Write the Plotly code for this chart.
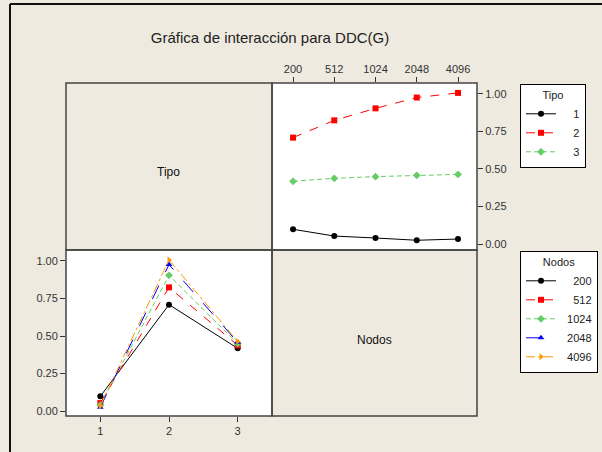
import plotly.graph_objects as go

# Mean DDC(G) for each combination of Tipo and Nodos
nodos = ["200", "512", "1024", "2048", "4096"]
tipos = [1, 2, 3]
ddc_tipo1 = [0.098, 0.053, 0.040, 0.025, 0.033]
ddc_tipo2 = [0.709, 0.824, 0.904, 0.976, 1.007]
ddc_tipo3 = [0.418, 0.438, 0.449, 0.458, 0.464]
ddc_by_tipo = [ddc_tipo1, ddc_tipo2, ddc_tipo3]

W, H = 602, 452
BG = "#EEEAE0"
FRAME = "#444444"
FONT = "Liberation Sans, Arial, sans-serif"
FIG_SPACE = "\u2007"  # digit-wide space, keeps legend numbers right-aligned


def px_x(p):
    return p / W


def px_y(p):
    return 1 - p / H


def legend_label(text, width):
    return FIG_SPACE * (width - len(text)) + text


# panel edges (pixels)
XL, XM, XR = 66, 272, 477
YT, YM, YB = 83, 250, 416

tipo_styles = [
    dict(color="#000000", dash="solid", symbol="circle"),
    dict(color="#FF0000", dash="dash", symbol="square"),
    dict(color="#66CC66", dash="5px,3px", symbol="diamond"),
]
nodos_styles = [
    dict(color="#000000", dash="solid", symbol="circle"),
    dict(color="#FF0000", dash="dash", symbol="square"),
    dict(color="#66CC66", dash="5px,3px", symbol="diamond"),
    dict(color="#0000FF", dash="longdash", symbol="triangle-up"),
    dict(color="#FF9900", dash="dashdot", symbol="triangle-right"),
]

fig = go.Figure()

# Top-right panel: DDC(G) vs Nodos, one line per Tipo
for i, t in enumerate(tipos):
    s = tipo_styles[i]
    fig.add_trace(go.Scatter(
        x=nodos, y=ddc_by_tipo[i], name=legend_label(str(t), 3),
        mode="lines+markers", xaxis="x2", yaxis="y2", legend="legend",
        line=dict(color=s["color"], dash=s["dash"], width=1),
        marker=dict(color=s["color"], symbol=s["symbol"], size=6),
    ))

# Bottom-left panel: DDC(G) vs Tipo, one line per Nodos
for j, n in enumerate(nodos):
    s = nodos_styles[j]
    fig.add_trace(go.Scatter(
        x=tipos, y=[ddc_by_tipo[i][j] for i in range(len(tipos))],
        name=legend_label(n, 5),
        mode="lines+markers", xaxis="x", yaxis="y", legend="legend2",
        line=dict(color=s["color"], dash=s["dash"], width=1),
        marker=dict(color=s["color"], symbol=s["symbol"], size=6),
    ))

tickfont = dict(family=FONT, size=11, color="#333333")
common_ax = dict(showgrid=False, zeroline=False, showline=False,
                 ticks="outside", ticklen=5, tickcolor="#333333",
                 tickfont=tickfont, fixedrange=True)

fig.update_layout(
    width=W, height=H,
    margin=dict(l=0, r=0, t=0, b=0),
    paper_bgcolor=BG, plot_bgcolor="white",
    font=dict(family=FONT, color="#222222"),
    title=dict(text="Gráfica de interacción para DDC(G)",
               x=px_x(270), xanchor="center", y=px_y(38), yanchor="middle",
               font=dict(family=FONT, size=15, color="#222222")),
    xaxis=dict(domain=[px_x(XL), px_x(XM)], anchor="y",
               range=[0.5, 3.5], tickvals=tipos, **common_ax),
    yaxis=dict(domain=[px_y(YB), px_y(YM)], anchor="x",
               range=[-0.033, 1.073], tickvals=[0, 0.25, 0.5, 0.75, 1.0],
               tickformat=".2f", **common_ax),
    xaxis2=dict(domain=[px_x(XM), px_x(XR)], anchor="y2", side="top",
                type="category", range=[-0.51, 4.46], **common_ax),
    yaxis2=dict(domain=[px_y(YM), px_y(YT)], anchor="x2", side="right",
                range=[-0.04, 1.073], tickvals=[0, 0.25, 0.5, 0.75, 1.0],
                tickformat=".2f", **common_ax),
    legend=dict(x=px_x(520), y=px_y(84), xanchor="left", yanchor="top",
                bgcolor="white", bordercolor="#000000", borderwidth=1,
                font=dict(family=FONT, size=11, color="#222222"),
                title=dict(text="Tipo", side="top center",
                           font=dict(family=FONT, size=11)),
                itemwidth=30, tracegroupgap=0),
    legend2=dict(x=px_x(520), y=px_y(251), xanchor="left", yanchor="top",
                 bgcolor="white", bordercolor="#000000", borderwidth=1,
                 font=dict(family=FONT, size=11, color="#222222"),
                 title=dict(text="Nodos", side="top center",
                            font=dict(family=FONT, size=11)),
                 itemwidth=30, tracegroupgap=0),
)

shapes = []
# outer frame (left and top edges)
shapes.append(dict(type="line", xref="paper", yref="paper",
                   x0=px_x(10), x1=px_x(10), y0=px_y(4), y1=0,
                   line=dict(color="#111111", width=2)))
shapes.append(dict(type="line", xref="paper", yref="paper",
                   x0=px_x(10), x1=1, y0=px_y(4), y1=px_y(4),
                   line=dict(color="#111111", width=2)))
# panel borders
for (x0, x1, y0, y1) in [(XL, XM, YT, YM), (XM, XR, YT, YM),
                         (XL, XM, YM, YB), (XM, XR, YM, YB)]:
    shapes.append(dict(type="rect", xref="paper", yref="paper",
                       x0=px_x(x0), x1=px_x(x1), y0=px_y(y1), y1=px_y(y0),
                       line=dict(color=FRAME, width=1.5),
                       fillcolor="rgba(0,0,0,0)", layer="above"))
fig.update_layout(shapes=shapes)

# factor names on the diagonal panels
for label, cx, cy in [("Tipo", 168, 172), ("Nodos", 374, 340)]:
    fig.add_annotation(text=label, xref="paper", yref="paper",
                       x=px_x(cx), y=px_y(cy), xanchor="center", yanchor="middle",
                       showarrow=False,
                       font=dict(family=FONT, size=12, color="#111111"))

fig.write_html("out.html")
